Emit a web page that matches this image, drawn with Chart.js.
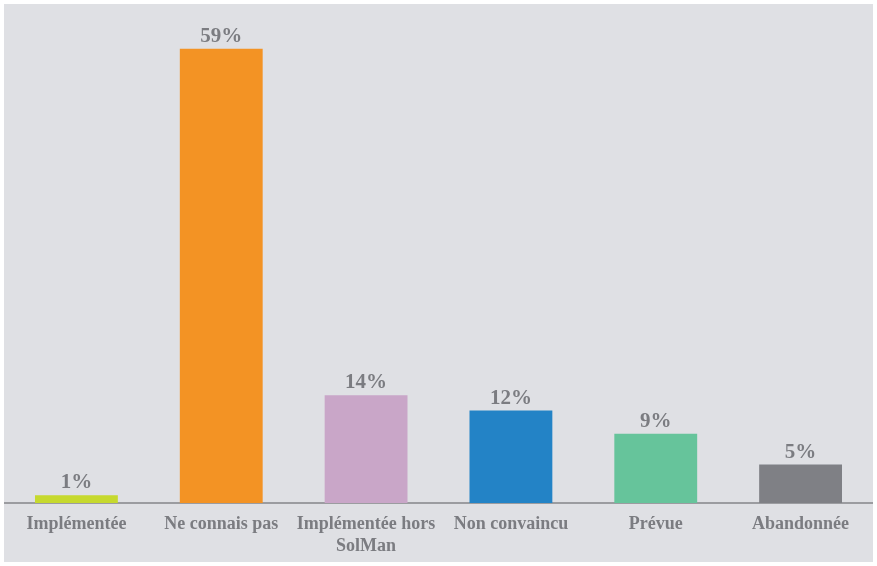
<!DOCTYPE html>
<html lang="fr">
<head>
<meta charset="utf-8">
<title>Statut de la fonctionnalité</title>
<script src="https://cdn.jsdelivr.net/npm/chart.js@4/dist/chart.umd.min.js"></script>
<style>
  html, body { margin: 0; padding: 0; background: #ffffff; }
  body { width: 877px; height: 566px; position: relative; overflow: hidden; }
  #panel { position: absolute; left: 4px; top: 4px; width: 869px; height: 558px; background: #dfe0e4; }
  #chart { position: absolute; left: 0; top: 0; }
</style>
</head>
<body>
<div id="panel"><canvas id="chart" width="869" height="558"></canvas></div>
<script>
// Survey answers and their shares (%)
const categories = ["Implémentée", "Ne connais pas", ["Implémentée hors", "SolMan"], "Non convaincu", "Prévue", "Abandonnée"];
const shares = [1, 59, 14, 12, 9, 5];
const barColors = ["#c6d92e", "#f39324", "#c9a6c8", "#2383c6", "#66c49b", "#7f8085"];

const textGray = "#7b7c81";
const serif = "'Liberation Serif', 'DejaVu Serif', serif";

// Writes the percentage above each bar
const valueLabels = {
  id: "valueLabels",
  afterDatasetsDraw(chart) {
    const ctx = chart.ctx;
    const meta = chart.getDatasetMeta(0);
    ctx.save();
    ctx.fillStyle = textGray;
    ctx.font = "bold 21px " + serif;
    ctx.textAlign = "center";
    ctx.textBaseline = "alphabetic";
    meta.data.forEach((bar, i) => {
      ctx.fillText(shares[i] + "%", bar.x, bar.y - 7);
    });
    ctx.restore();
  }
};

new Chart(document.getElementById("chart"), {
  type: "bar",
  data: {
    labels: categories,
    datasets: [{
      data: shares,
      backgroundColor: barColors,
      borderWidth: 0,
      categoryPercentage: 1,
      barPercentage: 0.572
    }]
  },
  options: {
    responsive: false,
    animation: false,
    layout: { padding: { top: 37, left: 0, right: 0, bottom: -6 } },
    plugins: { legend: { display: false }, tooltip: { enabled: false } },
    scales: {
      x: {
        grid: { display: false, drawTicks: false },
        border: { display: true, color: "#9b9ca0", width: 2 },
        ticks: {
          color: textGray,
          padding: 10,
          maxRotation: 0,
          autoSkip: false,
          font: { family: serif, size: 18, weight: "bold", lineHeight: 1.25 }
        }
      },
      y: {
        display: false,
        min: 0,
        max: 60
      }
    }
  },
  plugins: [valueLabels]
});
</script>
</body>
</html>
